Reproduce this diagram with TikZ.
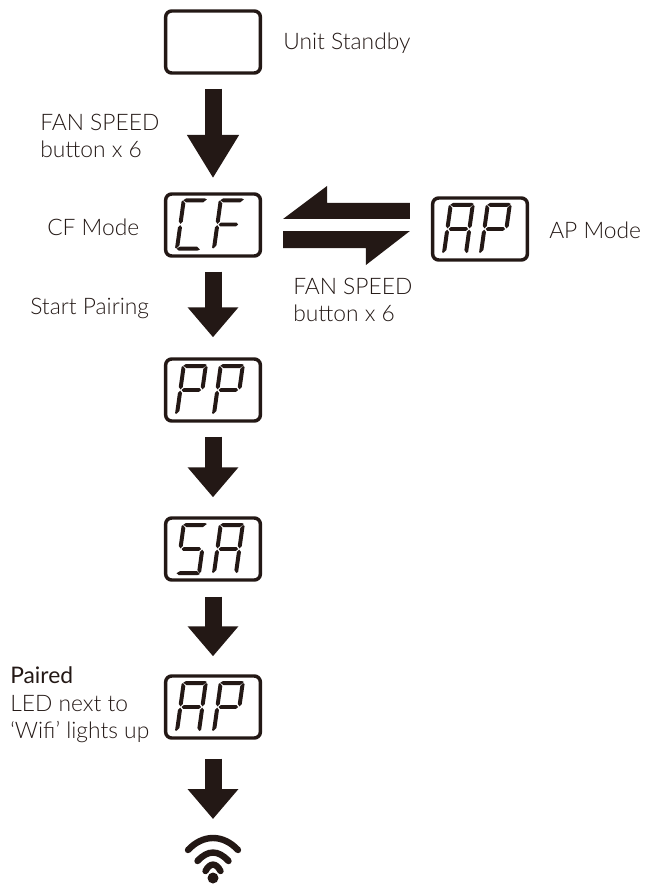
\documentclass[tikz,border=0pt]{standalone}
\usepackage{fontspec}
\setmainfont{Lato}[UprightFont=* Light,BoldFont=*]
\usetikzlibrary{arrows.meta,calc}
\definecolor{ink}{HTML}{231815}
\newcommand\segA{(1.5,1.8)--(4,0)--(23,0)--(25,1)--(21.5,4)--(5,4)--cycle}
\newcommand\segB{(24.2,2)--(26,3)--(26,23)--(24,25.3)--(22,23)--(22,5)--cycle}
\newcommand\segC{(24,26.7)--(26,29)--(26,49)--(24.2,50)--(22,47)--(22,29)--cycle}
\newcommand\segD{(1.5,50.2)--(5,48)--(21.5,48)--(25,51)--(23,52)--(4,52)--cycle}
\newcommand\segE{(2,26.7)--(4,29)--(4,47)--(1.2,50)--(0,49)--(0,29)--cycle}
\newcommand\segF{(1.2,2)--(4,5)--(4,23)--(2,25.3)--(0,23)--(0,3)--cycle}
\newcommand\segG{(3.2,26)--(5.2,24.1)--(20.8,24.1)--(22.8,26)--(20.8,27.9)--(5.2,27.9)--cycle}
\newcommand\glyph[3]{\begin{scope}[shift={(#1,#2)},xslant=0.14]
\foreach \s in {#3}{\fill[ink] \csname seg\s\endcsname;}
\end{scope}}
\newcommand\lcdpair[4]{\glyph{#1-31}{#2-26}{#3}\glyph{#1+6}{#2-26}{#4}}
\tikzset{
 x=0.75pt,y=-0.75pt,
 lcd/.style={draw=ink,line width=2.6pt,rounded corners=4.5pt,minimum width=71pt,minimum height=46.5pt,inner sep=0pt},
 blockarrow/.style={draw=ink,line width=12.75pt,-{Triangle[length=#1,width=36.75pt]}},
 blockarrow/.default=22.5pt,
 lab/.style={text=ink,font=\fontsize{17.1pt}{20.6pt}\selectfont,inner sep=0pt,align=left,anchor=west},
 wave/.style={draw=ink,line width=4.8pt,line cap=round}
}
\begin{document}
\begin{tikzpicture}
\useasboundingbox (0,0) rectangle (644,884);
\node[lcd] (s0) at (213,42) {};
\node[lcd] (s1) at (213,225) {};
\node[lcd] (s2) at (480,229) {};
\node[lcd] (s3) at (213,390) {};
\node[lcd] (s4) at (213,549) {};
\node[lcd] (s5) at (213,707) {};
\lcdpair{213}{224.5}{A,F,E,D}{A,F,E,G}
\lcdpair{480}{229}{A,B,C,E,F,G}{A,B,E,F,G}
\lcdpair{213}{390}{A,B,E,F,G}{A,B,E,F,G}
\lcdpair{213}{549}{A,F,G,C,D}{A,B,C,E,F,G}
\lcdpair{213}{707}{A,B,C,E,F,G}{A,B,E,F,G}
\coordinate (w) at (213,836);
\draw[blockarrow=32.5pt] ($(s0.south)+(0,14)$) -- ($(s1.north)+(0,-14)$);
\draw[blockarrow] ($(s1.south)+(0,14)$) -- ($(s3.north)+(0,-20)$);
\draw[blockarrow] ($(s3.south)+(0,14)$) -- ($(s4.north)+(0,-19)$);
\draw[blockarrow] ($(s4.south)+(0,15)$) -- ($(s5.north)+(0,-18)$);
\draw[blockarrow] ($(s5.south)+(0,19)$) -- ($(w)+(0,-17)$);
\fill[ink] ($(s1.east)+(21,-6)$) -- ($(s1.east)+(65,-39)$) -- ($(s1.east)+(65,-22)$) -- ($(s2.west)+(-21,-26)$) -- ($(s2.west)+(-21,-10)$) -- cycle;
\fill[ink] ($(s2.west)+(-21,2)$) -- ($(s2.west)+(-65,36)$) -- ($(s2.west)+(-65,19)$) -- ($(s1.east)+(21,23)$) -- ($(s1.east)+(21,6)$) -- cycle;
\draw[wave] (188,850) .. controls (203,834) and (223,834) .. (238,850);
\draw[wave] (197.5,861) .. controls (208,849.7) and (218,849.7) .. (228.5,861);
\draw[wave] (205.5,871) .. controls (210,862.5) and (216,862.5) .. (220.5,871);
\fill[ink] (213,878) circle[radius=5.5];
\node[lab] (t0) at (283,43) {Unit Standby};
\node[lab] (t1) at (40,136) {FAN SPEED\\button x 6};
\node[lab] (t2) at (47,227) {CF Mode};
\node[lab] (t3) at (30,308) {Start Pairing};
\node[lab] (t4) at (549,230) {AP Mode};
\node[lab] (t5) at (293,300) {FAN SPEED\\button x 6};
\node[lab] (t6) at (10,705) {\textbf{Paired}\\LED next to\\‘Wifi’ lights up};
\end{tikzpicture}
\end{document}
